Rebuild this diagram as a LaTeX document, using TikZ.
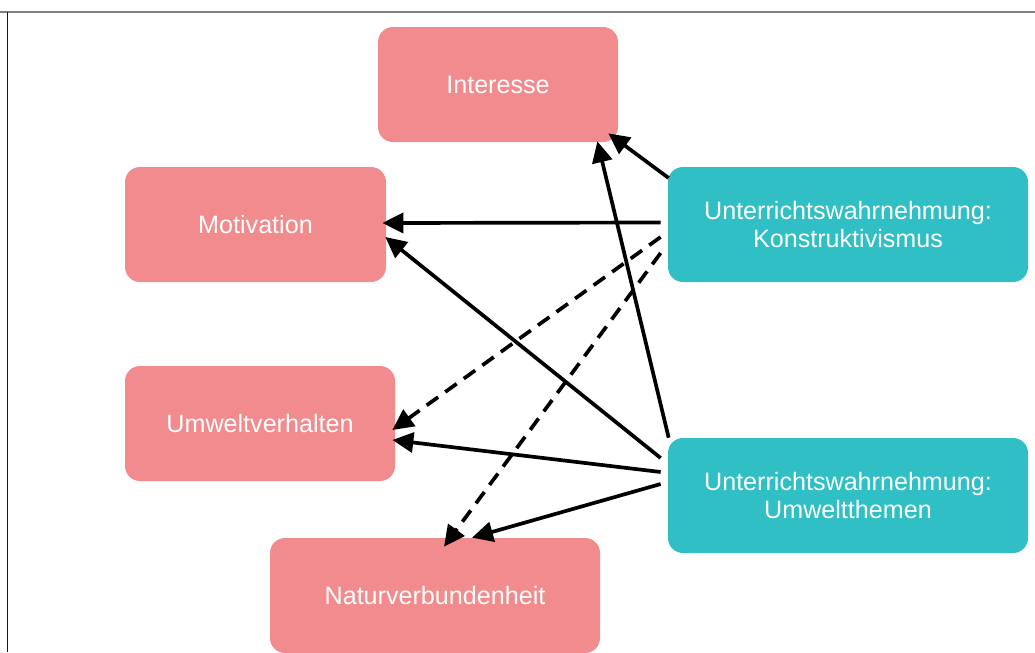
\documentclass[tikz,border=0pt]{standalone}
\usepackage{fontspec}
\setmainfont{Liberation Sans}
\usetikzlibrary{calc,arrows.meta}
\definecolor{boxred}{HTML}{F28B8D}
\definecolor{boxteal}{HTML}{2FBFC5}

\begin{document}
\begin{tikzpicture}[
		outcome/.style={fill=boxred, rounded corners=0.3cm, minimum height=2.3cm, inner sep=0pt, text=white, align=center, font=\fontsize{14.3}{15.5}\selectfont},
		predictor/.style={outcome, fill=boxteal, minimum width=7.2cm},
		effect/.style={line width=2.1pt, -{Triangle[length=0.42cm,width=0.4cm]}},
		weakeffect/.style={effect, dash pattern=on 8pt off 5pt}]
			%%%%% START %%%%%
			
			\useasboundingbox (0, 0) rectangle (20.7, -13.04);
			\draw[line width=0.8pt, color=black!50] (0, -0.24) -- (20.7, -0.24);
			\draw[line width=0.7pt, color=black!90] (0.15, -0.24) -- (0.15, -13.04);
			
			\node[outcome, minimum width=4.8cm] (int) at (9.96, -1.69) {Interesse};
			\node[outcome, minimum width=5.22cm] (mot) at (5.11, -4.49) {Motivation};
			\node[outcome, minimum width=5.4cm] (umw) at (5.2, -8.47) {Umweltverhalten};
			\node[outcome, minimum width=6.6cm] (nat) at (8.7, -11.91) {Naturverbundenheit};
			
			\node[predictor] (kon) at (16.96, -4.49) {Unterrichtswahrnehmung:\\Konstruktivismus};
			\node[predictor] (the) at (16.96, -9.91) {Unterrichtswahrnehmung:\\Umweltthemen};
			
			\draw[effect] ($(kon.west)+(0.02, 0.93)$) -- ($(int.south east)+(-0.2, 0.18)$);
			\draw[effect] ($(kon.west)+(-0.14, 0.04)$) -- ($(mot.east)+(-0.08, 0.03)$);
			\draw[weakeffect] ($(kon.west)+(-0.14, -0.25)$) -- ($(umw.east)+(-0.06, -0.13)$);
			\draw[weakeffect] ($(kon.west)+(-0.14, -0.57)$) -- ($(nat.north)+(0.18, -0.18)$);
			
			\draw[effect] ($(the.north west)+(0.02, 0)$) -- ($(int.south east)+(-0.42, 0.02)$);
			\draw[effect] ($(the.west)+(-0.14, 0.75)$) -- ($(mot.east)+(-0.02, -0.25)$);
			\draw[effect] ($(the.west)+(-0.14, 0.47)$) -- ($(umw.east)+(-0.06, -0.33)$);
			\draw[effect] ($(the.west)+(-0.14, 0.23)$) -- ($(nat.north)+(0.74, 0)$);
			
			%%%%% END %%%%%
		\end{tikzpicture}
\end{document}
